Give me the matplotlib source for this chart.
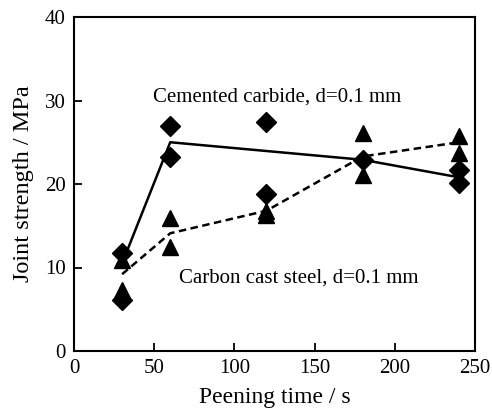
import matplotlib
matplotlib.use("Agg")
import matplotlib.pyplot as plt

# Cemented carbide (diamonds)
carbide_x = [30, 30, 60, 60, 120, 120, 180, 240, 240]
carbide_y = [11.7, 6.1, 26.9, 23.2, 27.4, 18.8, 22.9, 21.7, 20.1]
carbide_line_x = [30, 60, 180, 240]
carbide_line_y = [10.5, 25.0, 22.9, 20.8]

# Carbon cast steel (triangles)
steel_x = [30, 30, 60, 60, 120, 120, 180, 180, 240, 240]
steel_y = [10.9, 7.3, 15.9, 12.5, 16.8, 16.3, 26.1, 21.1, 25.7, 23.7]
steel_line_x = [30, 60, 120, 180, 240]
steel_line_y = [9.2, 14.1, 16.8, 23.3, 25.0]

plt.rcParams['font.family'] = ['Liberation Serif', 'DejaVu Serif']

fig = plt.figure(figsize=(4.92, 4.13), dpi=100)
ax = fig.add_axes([74/492, 1 - 351/413, 401/492, 334/413])

ax.plot(carbide_line_x, carbide_line_y, color='black', lw=1.8, zorder=2)
ax.plot(steel_line_x, steel_line_y, color='black', lw=1.8, ls=(0, (3.0, 1.8)), zorder=2)
ax.plot(carbide_x, carbide_y, ls='none', marker='D', ms=10, color='black', zorder=3)
ax.plot(steel_x, steel_y, ls='none', marker='^', ms=12, color='black', zorder=3)

ax.text(126.6, 30.4, 'Cemented carbide, d=0.1 mm', ha='center', va='center', fontsize=15)
ax.text(140, 8.7, 'Carbon cast steel, d=0.1 mm', ha='center', va='center', fontsize=15)

ax.set_xlim(0, 250)
ax.set_ylim(0, 40)
ax.set_xticks([0, 50, 100, 150, 200, 250])
ax.set_yticks([0, 10, 20, 30, 40])
ax.tick_params(direction='in', length=6, width=1.3, labelsize=15, pad=6)
for s in ax.spines.values():
    s.set_linewidth(1.5)
ax.set_xlabel('Peening time / s', fontsize=17, labelpad=6)
ax.set_ylabel('Joint strength / MPa', fontsize=17.5, labelpad=8)

fig.savefig('out.png', dpi=100)
